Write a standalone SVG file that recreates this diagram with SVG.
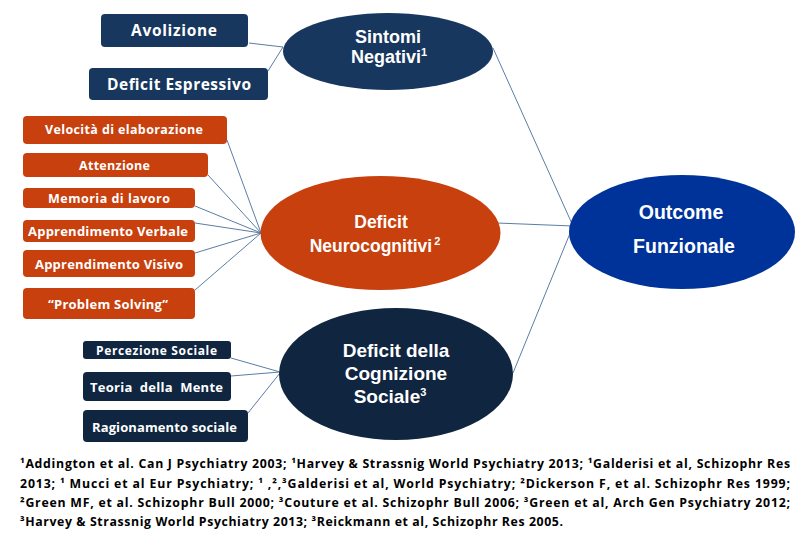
<svg xmlns="http://www.w3.org/2000/svg" width="810" height="540" viewBox="0 0 810 540">
<style>
.t{font-family:"Open Sans","Liberation Sans",sans-serif;font-weight:700;fill:#fff;text-anchor:middle}
.e{font-family:"Liberation Sans","Open Sans",sans-serif;font-weight:700;fill:#fff;text-anchor:middle}
.sup{font-size:11px}
.navy{fill:#17375E}
.dark{fill:#10253F}
.red{fill:#C8400E}
.blue{fill:#003399}
.c{stroke:#5B7DA3;stroke-width:1;fill:none}
.fn{font-family:"Open Sans","Liberation Sans",sans-serif;font-weight:700;fill:#000;font-size:12.3px}
</style>
<rect width="810" height="540" fill="#fff"/>
<g id="connectors">
<line class="c" x1="249" y1="43" x2="283" y2="47"/>
<line class="c" x1="268" y1="71" x2="283" y2="47"/>
<line class="c" x1="227" y1="140" x2="261" y2="233"/>
<line class="c" x1="208" y1="175" x2="261" y2="233"/>
<line class="c" x1="195" y1="206" x2="261" y2="233"/>
<line class="c" x1="195" y1="223" x2="261" y2="233"/>
<line class="c" x1="195" y1="253" x2="261" y2="233"/>
<line class="c" x1="195" y1="290" x2="261" y2="233"/>
<line class="c" x1="231" y1="358" x2="280" y2="372"/>
<line class="c" x1="231" y1="376" x2="280" y2="372"/>
<line class="c" x1="248" y1="413" x2="280" y2="373"/>
<line class="c" x1="493" y1="48" x2="573" y2="226"/>
<line class="c" x1="497" y1="223" x2="573" y2="226"/>
<line class="c" x1="513" y1="373" x2="573" y2="226"/>
</g>
<g id="avolizione"><rect class="navy" x="101" y="14" width="147" height="33" rx="4"/><text class="t" x="174" y="36" font-size="15.5" textLength="86">Avolizione</text></g>
<g id="deficit-espressivo"><rect class="navy" x="89" y="68" width="179" height="32" rx="4"/><text class="t" x="179" y="90" font-size="15.5" textLength="144">Deficit Espressivo</text></g>
<g id="sintomi-negativi"><ellipse class="navy" cx="388" cy="51.5" rx="105" ry="38.5"/><text class="e" x="388" y="42.5" font-size="18">Sintomi</text><text class="e" x="389" y="63" font-size="18">Negativi<tspan class="sup" dy="-7">1</tspan></text></g>
<g id="velocita"><rect class="red" x="23" y="116" width="204" height="28" rx="4"/><text class="t" x="124" y="134" font-size="12.5" textLength="158">Velocità di elaborazione</text></g>
<g id="attenzione"><rect class="red" x="23" y="153" width="185" height="24" rx="4"/><text class="t" x="114.5" y="170" font-size="12.5" textLength="71">Attenzione</text></g>
<g id="memoria"><rect class="red" x="23" y="188" width="172" height="20" rx="4"/><text class="t" x="109" y="202.5" font-size="12.5" textLength="122">Memoria di lavoro</text></g>
<g id="app-verbale"><rect class="red" x="23" y="220" width="172" height="22" rx="4"/><text class="t" x="108" y="236" font-size="13" textLength="160">Apprendimento Verbale</text></g>
<g id="app-visivo"><rect class="red" x="23" y="250" width="172" height="27" rx="4"/><text class="t" x="109" y="268.5" font-size="13" textLength="148">Apprendimento Visivo</text></g>
<g id="problem-solving"><rect class="red" x="23" y="288" width="172" height="31" rx="4"/><text class="t" x="108" y="308.5" font-size="13" textLength="120">“Problem Solving”</text></g>
<g id="neurocognitivi"><ellipse class="red" cx="380.5" cy="233" rx="120" ry="57"/><text class="e" x="381" y="228" font-size="17.5">Deficit</text><text class="e" x="375" y="252" font-size="17.5">Neurocognitivi<tspan class="sup" dy="-7" dx="2">2</tspan></text></g>
<g id="outcome"><ellipse class="blue" cx="682" cy="232" rx="113" ry="57"/><text class="e" x="681" y="219" font-size="19.5">Outcome</text><text class="e" x="684" y="253" font-size="19.5">Funzionale</text></g>
<g id="percezione"><rect class="dark" x="83" y="341" width="148" height="18" rx="3"/><text class="t" x="156.5" y="355" font-size="12" textLength="121">Percezione Sociale</text></g>
<g id="teoria"><rect class="dark" x="83" y="372" width="148" height="29" rx="4"/><text class="t" x="156.5" y="391.5" font-size="13" textLength="133" xml:space="preserve">Teoria  della  Mente</text></g>
<g id="ragionamento"><rect class="dark" x="83" y="410" width="165" height="32" rx="4"/><text class="t" x="164.5" y="431.5" font-size="13" textLength="145">Ragionamento sociale</text></g>
<g id="cognizione-sociale"><ellipse class="dark" cx="396" cy="374" rx="117" ry="66"/><text class="e" x="396" y="357" font-size="19">Deficit della</text><text class="e" x="396" y="380" font-size="19">Cognizione</text><text class="e" x="390" y="403" font-size="19">Sociale<tspan class="sup" dy="-7">3</tspan></text></g>
<g id="footnote" xml:space="preserve">
<text class="fn" x="20" y="468" textLength="770" lengthAdjust="spacing">¹Addington  et al. Can J Psychiatry 2003; ¹Harvey &amp; Strassnig World Psychiatry 2013;  ¹Galderisi et al, Schizophr Res</text>
<text class="fn" x="20" y="487.5" textLength="770" lengthAdjust="spacing">2013; ¹ Mucci et al Eur Psychiatry; ¹ ,²,³Galderisi et al, World Psychiatry; ²Dickerson F, et al. Schizophr Res 1999;</text>
<text class="fn" x="20" y="506.5" textLength="770" lengthAdjust="spacing">²Green MF, et al. Schizophr Bull 2000; ³Couture et al. Schizophr Bull 2006; ³Green et al, Arch Gen Psychiatry 2012;</text>
<text class="fn" x="20" y="525.5" textLength="543" lengthAdjust="spacing">³Harvey &amp; Strassnig World Psychiatry 2013; ³Reickmann et al, Schizophr Res 2005.</text>
</g>
</svg>
